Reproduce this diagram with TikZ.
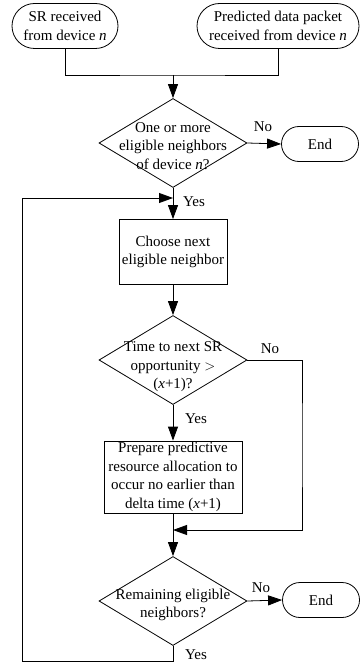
\documentclass[tikz,border=0pt]{standalone}
\usepackage{fontspec}
\setmainfont{Liberation Serif}
\usetikzlibrary{shapes.geometric,shapes.misc,arrows.meta}
\begin{document}
\begin{tikzpicture}[x=1pt,y=-1pt,line width=0.8pt,
    font=\fontsize{15}{18.5}\selectfont,
    term/.style={draw, rounded rectangle, align=center, minimum height=35pt, inner sep=0pt},
    proc/.style={draw, rectangle, align=center, inner sep=0pt},
    decision/.style={draw, diamond, minimum width=148pt, minimum height=89pt, inner sep=0pt},
    arr/.style={-{Triangle[length=14pt,width=10pt]}}]
    \useasboundingbox (0,0) rectangle (360,663);

    % start terminals
    \node[term, minimum width=106pt, minimum height=45pt] (sr) at (65,26) {SR received\\from device \textit{n}};
    \node[term, minimum width=162pt, minimum height=45pt] (pd) at (278,26) {Predicted data packet\\received from device \textit{n}};
    \coordinate (j1) at (173,75);
    \draw (sr.south) |- (j1) -| (pd.south);

    % first decision
    \node[decision] (d1) at (173,143) {};
    \node[align=center] (t1) at (173,146) {One or more\\eligible neighbors\\of device \textit{n}?};
    \node[term, minimum width=77pt] (e1) at (320,144) {End};
    \draw[arr] (j1) -- (d1.north);
    \draw[arr] (d1.east) -- (e1.west);
    \node (no1) at (263,127) {No};

    % loop entry and box
    \coordinate (lp) at (173,198);
    \node[proc, minimum width=108pt, minimum height=65pt] (b1) at (173,252) {Choose next\\eligible neighbor};
    \draw[arr] (d1.south) -- (b1.north);
    \node (yes1) at (194,202) {Yes};

    % second decision
    \node[decision] (d2) at (173,360) {};
    \node[align=center] (t2) at (173,367) {Time to next SR\\opportunity $>$\\(\textit{x}+1)?};
    \draw[arr] (b1.south) -- (d2.north);
    \node (no2) at (270,349) {No};

    \node[proc, minimum width=138pt, minimum height=72pt] (b2) at (173,477) {Prepare predictive\\resource allocation to\\occur no earlier than\\delta time (\textit{x}+1)};
    \draw[arr] (d2.south) -- (b2.north);
    \node (yes2) at (196,419) {Yes};

    \coordinate (rgt) at (302,445);
    \coordinate (j2) at (173,530);
    \draw[arr] (d2.east) -| (rgt) |- (j2);

    % third decision
    \node[decision] (d3) at (173,601) {};
    \node[align=center] (t3) at (173,605) {Remaining eligible\\neighbors?};
    \draw[arr] (b2.south) -- (d3.north);
    \node[term, minimum width=77pt] (e2) at (321,600) {End};
    \draw[arr] (d3.east) -- (e2.west);
    \node (no3) at (261,588) {No};

    \coordinate (lft) at (22,661);
    \draw[arr] (d3.south) |- (lft) |- (lp);
    \node (yes3) at (196,655) {Yes};
\end{tikzpicture}
\end{document}
